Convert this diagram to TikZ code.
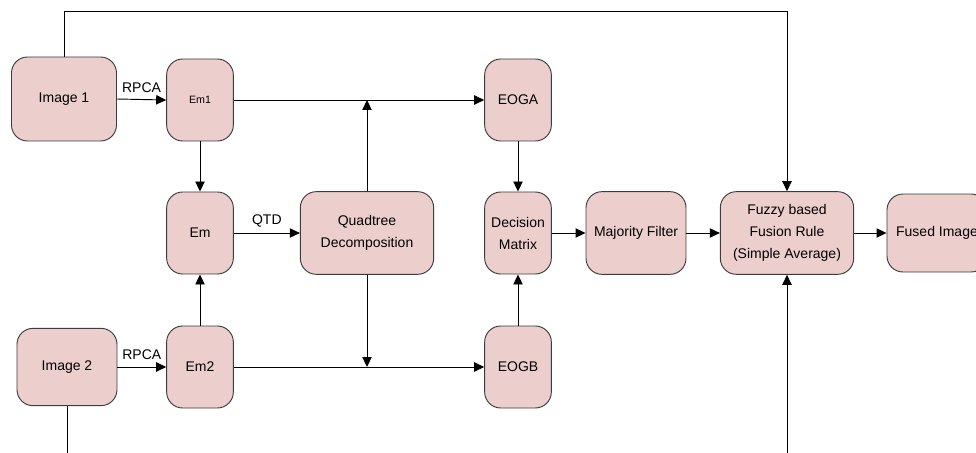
\documentclass[tikz,border=0pt]{standalone}
\usepackage{fontspec}
\setmainfont{Liberation Sans}
\usetikzlibrary{arrows.meta,positioning,calc}
\definecolor{boxfill}{RGB}{236,206,205}
\definecolor{boxline}{RGB}{60,60,60}

\begin{document}
\begin{tikzpicture}[x=0.75pt, y=-0.75pt, line width=0.7pt, >={Triangle[length=7.5pt,width=7pt]},
    font=\fontsize{10.5}{16.5}\selectfont,
    blk/.style={draw=boxline, fill=boxfill, rounded corners=12pt, inner sep=1pt, align=center,
                minimum width=50pt, minimum height=61.5pt},
    wide/.style={blk, minimum width=100pt, minimum height=62pt},
    lbl/.style={inner sep=1pt}]
  \useasboundingbox (0,0) rectangle (976,453);
  \clip (0,0) rectangle (976,453);
  % inputs
  \node[blk, minimum width=78.75pt, minimum height=63pt] (img1) at (64,99) {Image 1};
  \node[blk, minimum width=75pt, minimum height=58pt] (img2) at (67,367) {Image 2};
  % matrices
  \node[blk] (em1) at (200,100) {\fontsize{8}{10}\selectfont Em1};
  \node[blk] (em) at (200,233) {Em};
  \node[blk] (em2) at (200,367) {Em2};
  \node[wide] (qt) at (367,233) {Quadtree\\ Decomposition};
  \node[blk] (eoga) at (518,100) {EOGA};
  \node[blk] (dm) at (518,233) {Decision\\ Matrix};
  \node[blk] (eogb) at (518,367) {EOGB};
  \node[blk, minimum width=75pt, minimum height=62pt] (mf) at (636,233) {Majority Filter};
  \node[wide] (fz) at (787,233) {Fuzzy based\\ Fusion Rule\\ (Simple Average)};
  \node[blk, minimum width=75pt, minimum height=58.5pt] (fused) at (937,233) {Fused Image};
  \coordinate (top) at (0,11);
  \coordinate (bot) at (0,453);
  % connectors
  \draw[->] (img1.east) -- node[lbl, above=4pt] {RPCA} (em1.west);
  \draw[->] (img2.east) -- node[lbl, above=4pt] {RPCA} (em2.west);
  \draw[->] (em1.south) -- (em.north);
  \draw[->] (em2.north) -- (em.south);
  \draw[->] (em.east) -- node[lbl, above=3pt] {QTD} (qt.west);
  \draw[->] (em1.east) -- (eoga.west);
  \draw[->] (em2.east) -- (eogb.west);
  \draw[->] (qt.north) -- (qt.north |- em1.east);
  \draw[->] (qt.south) -- (qt.south |- em2.east);
  \draw[->] (eoga.south) -- (dm.north);
  \draw[->] (eogb.north) -- (dm.south);
  \draw[->] (dm.east) -- (mf.west);
  \draw[->] (mf.east) -- (fz.west);
  \draw[->] (fz.east) -- (fused.west);
  \draw[->] (img1.north) -- (img1.north |- top) -| (fz.north);
  \draw (img2.south) -- (img2.south |- bot);
  \draw[->] (fz.south |- bot) -- (fz.south);
\end{tikzpicture}
\end{document}
